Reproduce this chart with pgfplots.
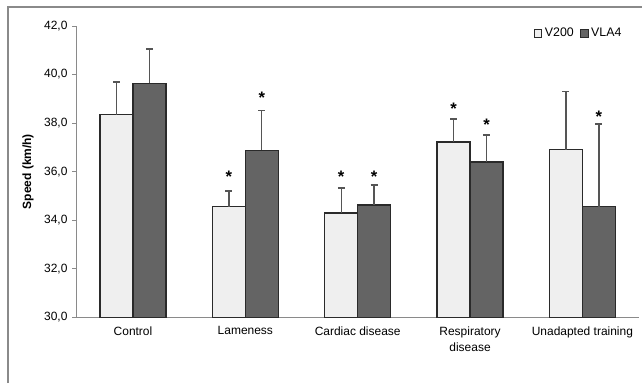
\documentclass[border=0pt]{standalone}
\usepackage{pgfplots}
\pgfplotsset{compat=1.18}
\usepackage{fontspec}
\setmainfont{Liberation Sans}
\definecolor{lightbar}{HTML}{EFEFEF}
\definecolor{darkbar}{HTML}{646464}
\definecolor{edgecol}{HTML}{2A2A2A}
\definecolor{errcol}{HTML}{555555}
\definecolor{axcol}{HTML}{8A8A8A}
\begin{document}
\begin{tikzpicture}
\path (0,0) rectangle (482.25pt,288pt);
\draw[axcol, line width=1.1pt] (6pt,0pt) -- (6pt,282.75pt) -- (482.25pt,282.75pt);
\begin{axis}[
  at={(57.75pt,49.5pt)}, anchor=south west,
  scale only axis, width=422.25pt, height=219pt,
  ybar=0pt, bar width=24.75pt,
  xmin=-0.5, xmax=4.5, ymin=30, ymax=42,
  axis x line=bottom, axis y line=left,
  axis line style={axcol, line width=0.8pt, -},
  x axis line style={-}, y axis line style={-},
  ytick={30,32,...,42},
  /pgf/number format/fixed, /pgf/number format/fixed zerofill,
  /pgf/number format/precision=1, /pgf/number format/use comma,
  /pgf/number format/assume math mode=true,
  xtick={0,1,2,3,4},
  xticklabels={Control,Lameness,Cardiac disease,{Respiratory\\disease},Unadapted training},
  xticklabel style={align=center, font=\fontsize{9}{12}\selectfont},
  yticklabel style={font=\fontsize{9}{11}\selectfont},
  x tick style={draw=none},
  extra x ticks={0.5,1.5,2.5,3.5,4.5},
  extra x tick labels={},
  extra x tick style={tick style={draw=axcol, line width=0.6pt}, major tick length=3pt, tick align=outside},
  y tick style={draw=axcol, line width=0.6pt},
  tick align=outside, major tick length=3.5pt,
  ylabel={\bfseries Speed (km/h)},
  ylabel style={at={(axis description cs:-0.087,0.5)}, anchor=center, font=\fontsize{9}{11}\selectfont},
  legend style={draw=none, fill=none, at={(0.977,1.007)}, anchor=north east,
    legend columns=2, font=\fontsize{9.3}{11}\selectfont,
    /tikz/every even column/.append style={column sep=3pt},
    inner sep=1pt},
  clip=false,
  error bars/y dir=plus, error bars/y explicit,
  error bars/error bar style={errcol, line width=1pt, solid},
  error bars/error mark options={errcol, line width=1.2pt, mark size=2.6pt, rotate=90, solid},
]
\addplot[bar shift=-12.375pt, fill=lightbar, draw=edgecol, line width=1pt,
  legend image code/.code={\draw[fill=lightbar, draw=edgecol, line width=0.6pt] (0pt,-2.6pt) rectangle (5.4pt,2.8pt);}]
  coordinates {
  (0,38.35) +- (0,1.34)
  (1,34.55) +- (0,0.65)
  (2,34.30) +- (0,1.03)
  (3,37.22) +- (0,0.94)
  (4,36.90) +- (0,2.40)
  };
\addlegendentry{V200}
\addplot[bar shift=12.375pt, fill=darkbar, draw=edgecol, line width=1pt,
  legend image code/.code={\draw[fill=darkbar, draw=edgecol, line width=0.6pt] (0pt,-2.6pt) rectangle (5.4pt,2.8pt);}]
  coordinates {
  (0,39.63) +- (0,1.41)
  (1,36.88) +- (0,1.64)
  (2,34.63) +- (0,0.81)
  (3,36.40) +- (0,1.12)
  (4,34.56) +- (0,3.40)
  };
\addlegendentry{VLA4}
\addplot[forget plot, bar shift=0pt, draw=none, fill=none,
  nodes near coords={\bfseries *},
  every node near coord/.style={anchor=center, inner sep=0pt, font=\fontsize{12.5}{12}\selectfont, yshift=-2.5pt, xshift=-12.375pt}]
  coordinates {(1,35.92) (2,35.92) (3,38.73)};
\addplot[forget plot, bar shift=0pt, draw=none, fill=none,
  nodes near coords={\bfseries *},
  every node near coord/.style={anchor=center, inner sep=0pt, font=\fontsize{12.5}{12}\selectfont, yshift=-2.5pt, xshift=12.375pt}]
  coordinates {(1,39.16) (2,35.92) (3,38.07) (4,38.38)};
\end{axis}
\end{tikzpicture}
\end{document}
